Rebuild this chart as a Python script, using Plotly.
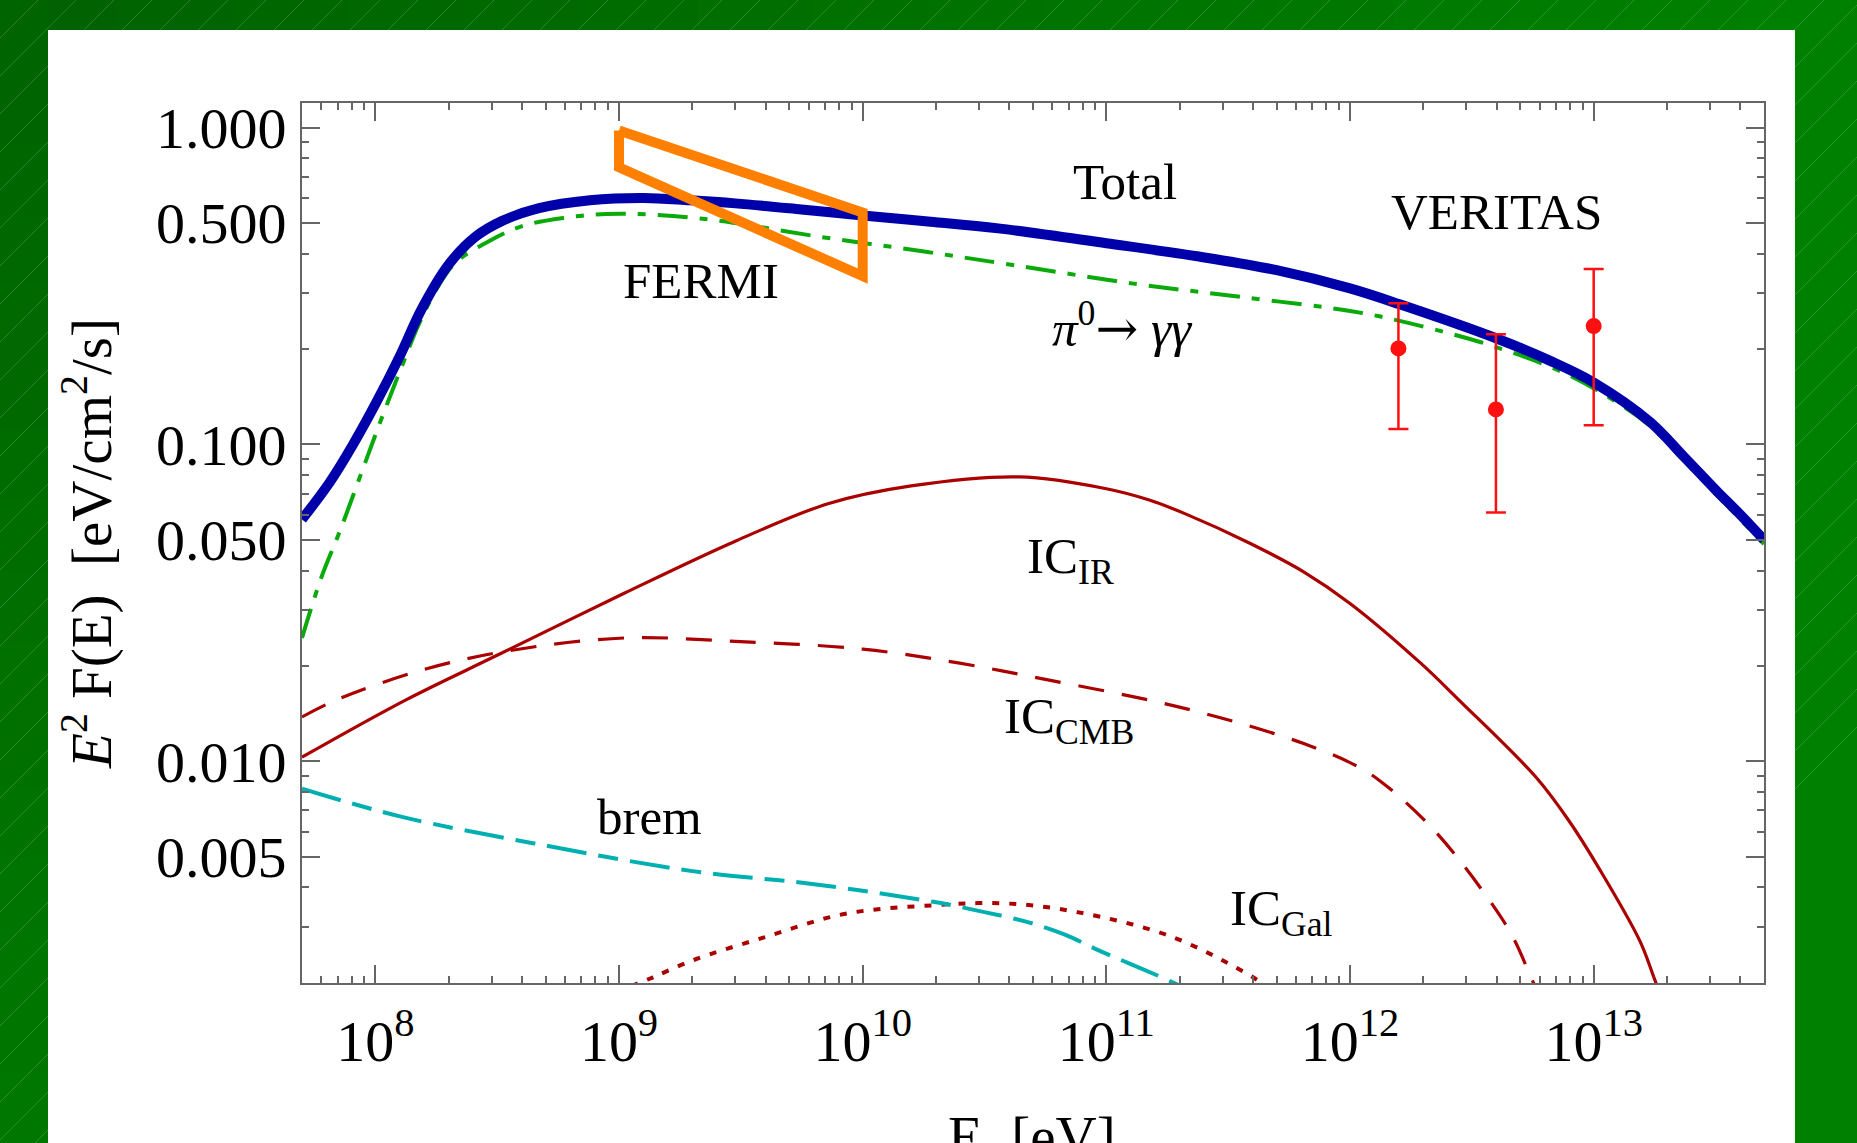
import math
import plotly.graph_objects as go

# ---------------- data ----------------
total_e = [5.0e7, 6.5e7, 8.1e7, 1.0e8, 1.26e8, 1.55e8, 2.0e8, 2.57e8, 3.3e8, 4.7e8,
           7.6e8, 1.26e9, 1.95e9, 3.0e9, 5.6e9, 1.0e10, 1.9e10, 3.6e10, 1.0e11, 2.4e11,
           5.0e11, 1.0e12, 1.6e12, 4.0e12, 6.6e12, 1.0e13, 1.7e13, 2.35e13, 3.16e13, 4.0e13, 5.0e13]
total_f = [0.058, 0.076, 0.100, 0.134, 0.190, 0.268, 0.370, 0.452, 0.507, 0.557,
           0.590, 0.600, 0.590, 0.577, 0.552, 0.528, 0.505, 0.481, 0.432, 0.392,
           0.355, 0.311, 0.277, 0.216, 0.184, 0.157, 0.118, 0.0914, 0.072, 0.060, 0.050]

pi0_e = [5.0e7, 6.0e7, 7.2e7, 9.1e7, 1.07e8, 1.29e8, 1.51e8, 1.82e8, 2.14e8, 2.95e8,
         4.0e8, 5.9e8, 8.9e8, 1.41e9, 2.5e9, 6.6e9, 1.62e10, 4.2e10, 1.29e11, 3.6e11,
         1.0e12, 1.55e12, 2.57e12, 3.9e12, 7.1e12, 1.17e13, 1.7e13, 2.35e13, 3.16e13, 5.0e13]
pi0_f = [0.0245, 0.038, 0.054, 0.088, 0.123, 0.178, 0.240, 0.318, 0.376, 0.440,
         0.489, 0.519, 0.534, 0.531, 0.510, 0.453, 0.411, 0.368, 0.322, 0.292,
         0.264, 0.247, 0.224, 0.204, 0.172, 0.140, 0.1145, 0.0887, 0.070, 0.0485]

ic_ir_e = [5.0e7, 1.33e8, 3.16e8, 1.05e9, 3.0e9, 7.2e9, 1.58e10, 4.4e10, 1.0e11, 1.5e11,
           2.1e11, 3.9e11, 6.5e11, 1.0e12, 1.95e12, 2.8e12, 5.8e12, 7.9e12, 1.05e13, 1.55e13,
           1.8e13, 2.1e13]
ic_ir_f = [0.0103, 0.0156, 0.0216, 0.0339, 0.0495, 0.065, 0.074, 0.079, 0.0725, 0.0668,
           0.0605, 0.0487, 0.0395, 0.0315, 0.0204, 0.0156, 0.0089, 0.0065, 0.0046, 0.0027,
           0.0020, 0.0015]

ic_cmb_e = [5.0e7, 6.9e7, 1.55e8, 3.5e8, 1.05e9, 3.0e9, 1.0e10, 2.5e10, 5.9e10, 1.5e11,
            2.4e11, 3.9e11, 6.5e11, 1.0e12, 1.32e12, 2.24e12, 3.9e12, 4.7e12, 5.5e12, 6.3e12]
ic_cmb_f = [0.0138, 0.0156, 0.0194, 0.0223, 0.0245, 0.0239, 0.0226, 0.0204, 0.0180, 0.0156,
            0.0143, 0.0129, 0.01135, 0.0099, 0.0087, 0.0060, 0.00347, 0.00275, 0.0021, 0.00166]

brem_e = [5.0e7, 1.26e8, 4.5e8, 2.0e9, 6.2e9, 1.95e10, 3.16e10, 4.8e10, 6.8e10, 9.3e10, 1.86e11, 2.14e11]
brem_f = [0.0082, 0.0067, 0.0055, 0.0045, 0.0041, 0.0036, 0.00334, 0.0031, 0.00283, 0.00253,
          0.00201, 0.00190]

ic_gal_e = [1.12e9, 1.38e9, 2.0e9, 4.0e9, 8.5e9, 1.95e10, 3.8e10, 7.6e10, 1.86e11, 4.0e11, 4.5e11]
ic_gal_f = [0.00195, 0.00208, 0.00235, 0.00279, 0.0033, 0.00351, 0.00356, 0.00334,
            0.00279, 0.00208, 0.00195]

veritas_e = [1.58e12, 3.97e12, 1.0e13]
veritas_f = [0.201, 0.129, 0.2365]
veritas_hi = [0.279, 0.223, 0.358]
veritas_lo = [0.112, 0.061, 0.115]

fermi_e = [1.0e9, 1.0e10, 1.0e10, 1.0e9, 1.0e9]
fermi_f = [0.98, 0.54, 0.34, 0.75, 0.98]

x_tick_vals = [1e8, 1e9, 1e10, 1e11, 1e12, 1e13]
x_tick_text = ["10<sup>8</sup>", "10<sup>9</sup>", "10<sup>10</sup>",
               "10<sup>11</sup>", "10<sup>12</sup>", "10<sup>13</sup>"]
y_tick_vals = [1.0, 0.5, 0.1, 0.05, 0.01, 0.005]
y_tick_text = ["1.000", "0.500", "0.100", "0.050", "0.010", "0.005"]

# ---------------- figure ----------------
FONT = "Liberation Serif, Times New Roman, serif"
W, H = 1857, 1143
L, R, T, B = 302, 93, 103, 160
PW, PH = W - L - R, H - T - B

def px(xp):
    return (xp - L) / PW

def py(yp):
    return (H - B - yp) / PH

fig = go.Figure()

RED = "#AA0000"
SM = 1.0
fig.add_trace(go.Scatter(x=ic_cmb_e, y=ic_cmb_f, mode="lines",
                         line=dict(color=RED, width=3.2, dash="26px,18px", shape="spline", smoothing=SM)))
fig.add_trace(go.Scatter(x=ic_ir_e, y=ic_ir_f, mode="lines",
                         line=dict(color=RED, width=3.2, shape="spline", smoothing=SM)))
fig.add_trace(go.Scatter(x=ic_gal_e, y=ic_gal_f, mode="lines",
                         line=dict(color=RED, width=4, dash="7px,10px", shape="spline", smoothing=SM)))
fig.add_trace(go.Scatter(x=brem_e, y=brem_f, mode="lines",
                         line=dict(color="#00B0B0", width=4, dash="40px,12px,20px,12px", shape="spline", smoothing=SM)))
fig.add_trace(go.Scatter(x=pi0_e, y=pi0_f, mode="lines",
                         line=dict(color="#0AAA0A", width=4, dash="30px,12px,8px,12px", shape="spline", smoothing=SM)))
fig.add_trace(go.Scatter(x=total_e, y=total_f, mode="lines",
                         line=dict(color="#0000AA", width=10, shape="spline", smoothing=SM)))
fig.add_trace(go.Scatter(x=fermi_e, y=fermi_f, mode="lines",
                         line=dict(color="#FF8000", width=10)))
fig.add_trace(go.Scatter(
    x=veritas_e, y=veritas_f, mode="markers",
    marker=dict(color="#FF1010", size=16),
    error_y=dict(type="data", symmetric=False,
                 array=[h - v for h, v in zip(veritas_hi, veritas_f)],
                 arrayminus=[v - l for v, l in zip(veritas_f, veritas_lo)],
                 color="#FF1010", thickness=2.5, width=10)))

# invisible trace for minor-tick axes
fig.add_trace(go.Scatter(x=[1e9], y=[0.1], xaxis="x2", yaxis="y2", mode="markers",
                         marker=dict(opacity=0), hoverinfo="skip"))

xr = [math.log10(5e7), math.log10(5e13)]
yr = [-2.70, 0.078]

minor_x = [m * 10 ** k for k in range(7, 14) for m in range(2, 10)
           if 5e7 <= m * 10 ** k <= 5e13]
minor_y = [m * 10.0 ** k for k in range(-3, 1) for m in range(2, 10)
           if 0.002 <= m * 10.0 ** k <= 1.2 and round(m * 10.0 ** k, 6) not in (0.5, 0.05, 0.005)]

axis_common = dict(showgrid=False, zeroline=False, ticks="inside", tickcolor="#666666",
                   linecolor="#666666", automargin=False)

fig.update_layout(
    width=W, height=H, autosize=False,
    margin=dict(l=L, r=R, t=T, b=B, pad=0),
    paper_bgcolor="#007A00", plot_bgcolor="white",
    showlegend=False,
    font=dict(family=FONT, color="black"),
    xaxis=dict(type="log", range=xr, tickvals=x_tick_vals, ticktext=x_tick_text,
               ticklen=18, tickwidth=1.5, showline=True, linewidth=2, mirror="ticks",
               tickfont=dict(size=58, family=FONT, color="black"),
               ticklabelstandoff=6,
               **axis_common),
    yaxis=dict(type="log", range=yr, tickvals=y_tick_vals, ticktext=y_tick_text,
               ticklen=18, tickwidth=1.5, showline=True, linewidth=2, mirror="ticks",
               tickfont=dict(size=58, family=FONT, color="black"),
               ticklabelstandoff=2,
               title=dict(text="<i>E</i><sup>2</sup> F(E)\u00a0\u00a0[eV/cm<sup>2</sup>/s]",
                          font=dict(size=57, family=FONT, color="black"), standoff=26),
               **axis_common),
    xaxis2=dict(type="log", range=xr, overlaying="x", anchor="y2", side="bottom",
                tickvals=minor_x, ticklen=7, tickwidth=1.5, showticklabels=False,
                showline=False, mirror="ticks", **axis_common),
    yaxis2=dict(type="log", range=yr, overlaying="y", anchor="x2", side="left",
                tickvals=minor_y, ticklen=7, tickwidth=1.5, showticklabels=False,
                showline=False, mirror="ticks", **axis_common),
)

# ---------------- background (green frame + white panel) ----------------
shapes = []
n = 16
for i in range(n):
    x0 = W * i / n
    x1 = W * (i + 1) / n
    g = int(98 + (128 - 98) * i / (n - 1))
    shapes.append(dict(type="rect", xref="paper", yref="paper", layer="below",
                       x0=px(x0), x1=px(x1 + 1), y0=py(0), y1=py(H),
                       fillcolor=f"rgb(0,{g},0)", line=dict(width=0)))
for i in range(n):
    y0 = H * i / n
    y1 = H * (i + 1) / n
    g = int(100 + (120 - 100) * i / (n - 1))
    shapes.append(dict(type="rect", xref="paper", yref="paper", layer="below",
                       x0=px(0), x1=px(48), y0=py(y0), y1=py(y1 + 1),
                       fillcolor=f"rgb(0,{g},0)", line=dict(width=0)))
step = 38
x0 = -H
while x0 < 1450:
    shapes.append(dict(type="line", xref="paper", yref="paper", layer="below",
                       x0=px(x0), y0=py(H), x1=px(x0 + H), y1=py(0),
                       line=dict(color="rgba(190,230,190,0.22)", width=1)))
    x0 += step
shapes.append(dict(type="rect", xref="paper", yref="paper", layer="below",
                   x0=px(48), x1=px(1795), y0=py(H + 5), y1=py(30),
                   fillcolor="white", line=dict(width=0)))
fig.update_layout(shapes=shapes)

# x-axis title (partly cut by the page bottom, as in the original)
fig.add_annotation(text="E\u00a0\u00a0[eV]", xref="paper", yref="paper",
                   x=px(1032), y=py(1136), xanchor="center", yanchor="middle",
                   showarrow=False, font=dict(size=57, family=FONT, color="black"))

# ---------------- labels ----------------
def label(text, x, y, size=51):
    fig.add_annotation(text=text, x=x, y=y, xref="x", yref="y", showarrow=False,
                       xanchor="center", yanchor="middle",
                       font=dict(size=size, family=FONT, color="black"))

label("Total", 11.076, -0.172)
label("VERITAS", 12.60, -0.266)
label("FERMI", 9.338, -0.484)
label("<i>π</i><sup>0</sup><span style=\"font-family:DejaVu Serif\">\u2192</span> <i>γγ</i>",
      11.068, -0.623)
label("IC<sub>IR</sub>", 10.854, -1.365)
label("IC<sub>CMB</sub>", 10.846, -1.870)
label("brem", 9.125, -2.176)
label("IC<sub>Gal</sub>", 11.717, -2.476)

fig.write_html("out.html")
